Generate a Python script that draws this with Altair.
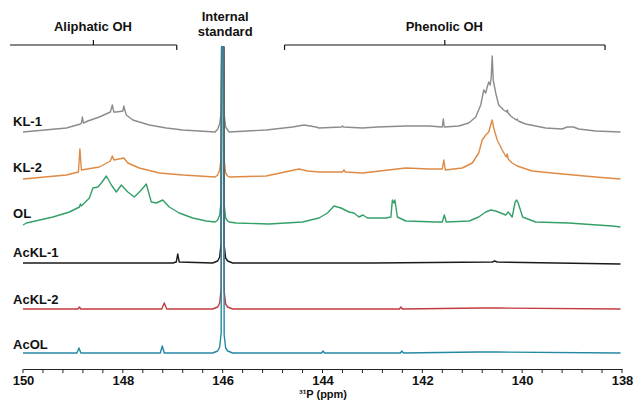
import altair as alt
import pandas as pd

# ---------------- data ----------------
SERIES = ["KL-1", "KL-2", "OL", "AcKL-1", "AcKL-2", "AcOL"]
COLORS = ["#8c8c8c", "#de8a45", "#34a068", "#1a1a1a", "#c23b3e", "#2488a3"]
OFFSETS = [237, 191, 145, 106, 60, 16]          # vertical stacking of the spectra
LABEL_RAISE = [10, 10, 10, 10, 9, 8]

# (ppm, intensity above own baseline)
KL1 = [(150.0, 0), (149.13, 4), (148.85, 8), (148.83, 9), (148.81, 15), (148.79, 9),
       (148.7, 11), (148.47, 15), (148.25, 20), (148.21, 27), (148.18, 20), (148.13, 20),
       (148.0, 21), (147.98, 26), (147.95, 20), (147.93, 17), (147.8, 12), (147.47, 7),
       (147.13, 4), (146.8, 2), (146.47, 1), (146.15, 0), (146.1, 3), (146.06, 8),
       (146.03, 20), (146.02, 85), (145.98, 85), (145.97, 18), (145.94, 5), (145.9, 2),
       (145.87, 0), (145.13, 2), (144.6, 5), (144.37, 7), (144.13, 5), (144.07, 4),
       (143.62, 5), (143.6, 6), (143.58, 5), (143.2, 4), (142.9, 5), (142.33, 6),
       (141.87, 6), (141.6, 5), (141.58, 13), (141.56, 5), (141.27, 6), (141.07, 9),
       (140.93, 15), (140.83, 27), (140.77, 42), (140.73, 39), (140.7, 45), (140.67, 50),
       (140.64, 47), (140.62, 55), (140.6, 76), (140.58, 52), (140.53, 39), (140.47, 27),
       (140.37, 22), (140.31, 20), (140.3, 22), (140.28, 19), (140.23, 16), (140.12, 12),
       (140.1, 13), (140.08, 11), (139.93, 8), (139.53, 4), (139.2, 3), (139.1, 5),
       (138.97, 5), (138.87, 3), (138.53, 1), (138.03, 0)]

KL2 = [(150.0, -1), (149.13, 3), (148.89, 6), (148.86, 29), (148.83, 8), (148.47, 11),
       (148.25, 17), (148.21, 22), (148.18, 18), (147.98, 20), (147.9, 15), (147.67, 10),
       (147.27, 5), (146.8, 3), (146.15, 1), (146.1, 3), (146.06, 8), (146.03, 20),
       (146.02, 131), (145.98, 131), (145.97, 18), (145.94, 5), (145.9, 2),
       (145.87, 1), (145.13, 2), (144.47, 9), (144.3, 7), (144.07, 6), (143.6, 6),
       (143.57, 8), (143.54, 6), (143.2, 5), (142.33, 10), (141.87, 9), (141.6, 9),
       (141.57, 18), (141.54, 8), (141.2, 10), (141.0, 15), (140.87, 25), (140.8, 38),
       (140.73, 43), (140.67, 46), (140.62, 55), (140.6, 58), (140.57, 50), (140.5, 38),
       (140.4, 28), (140.32, 21), (140.3, 24), (140.28, 19), (140.2, 15), (140.1, 12),
       (139.8, 7), (139.4, 5), (138.97, 3), (138.53, 1), (138.03, -1)]

OL = [(150.0, -1), (149.93, 1), (149.4, 7), (149.07, 12), (148.87, 17), (148.85, 20),
      (148.83, 18), (148.67, 26), (148.6, 36), (148.5, 37), (148.43, 41), (148.33, 48),
      (148.23, 39), (148.13, 32), (148.03, 39), (147.9, 32), (147.77, 27), (147.63, 34),
      (147.53, 40), (147.43, 22), (147.33, 21), (147.2, 24), (147.07, 17), (146.87, 11),
      (146.6, 6), (146.33, 3), (146.15, 2), (146.1, 4), (146.06, 9), (146.03, 22),
      (146.02, 177), (145.98, 177), (145.97, 20), (145.94, 6), (145.9, 3),
      (145.87, 2), (145.73, 1), (145.07, 0), (144.4, 2), (144.07, 6), (143.9, 11),
      (143.77, 18), (143.63, 16), (143.47, 12), (143.37, 11), (143.27, 7), (143.19, 9),
      (143.1, 6), (142.73, 6), (142.63, 7), (142.6, 24), (142.57, 21), (142.55, 24),
      (142.5, 7), (142.33, 3), (141.73, 2), (141.6, 2), (141.56, 9), (141.52, 2),
      (141.06, 3), (140.87, 7), (140.73, 12), (140.63, 14), (140.53, 13), (140.43, 11),
      (140.33, 9), (140.28, 12), (140.2, 7), (140.14, 22), (140.11, 24), (140.08, 21),
      (139.99, 7), (139.73, 2), (139.07, 1), (138.2, -2), (138.03, -3)]

ACKL1 = [(150.0, 0), (148.5, 0), (147.0, 0), (146.93, 1), (146.9, 9), (146.87, 1),
         (146.2, 0), (146.1, 2), (146.06, 6), (146.03, 20), (146.02, 216), (145.98, 216),
         (145.97, 18), (145.94, 5), (145.9, 2), (145.8, 0), (143.0, 0), (140.6, 1),
         (140.55, 2), (140.5, 1), (138.03, -1)]

ACKL2 = [(150.0, 0), (148.9, 0), (148.87, 2), (148.84, 0), (147.22, 0), (147.17, 6),
         (147.12, 0), (146.2, 0), (146.1, 2), (146.06, 6), (146.03, 20), (146.02, 262),
         (145.98, 262), (145.97, 18), (145.94, 5), (145.9, 2), (145.8, 0), (142.46, 0),
         (142.43, 2), (142.4, 0), (140.8, 1), (140.5, 1), (138.03, 0)]

ACOL = [(150.0, 0), (148.92, 0), (148.88, 5), (148.84, 0), (147.25, 0), (147.21, 7),
        (147.17, 0), (146.2, 0), (146.1, 2), (146.06, 6), (146.03, 20), (146.02, 306),
        (145.98, 306), (145.97, 18), (145.94, 5), (145.9, 2), (145.8, 0), (144.02, 0),
        (143.99, 2), (143.96, 0), (142.44, 0), (142.41, 2), (142.38, 0), (140.9, 1),
        (140.5, 1), (138.03, 0)]

SPECTRA = [KL1, KL2, OL, ACKL1, ACKL2, ACOL]

X_LABEL_TICKS = [150, 148, 146, 144, 142, 140, 138]
X_TICKS = [round(150 - 0.4 * i, 1) for i in range(31)]

ALIPHATIC_RANGE = (150.26, 146.92)
PHENOLIC_RANGE = (144.76, 138.34)
ANNOT_TEXT = ["Aliphatic OH", "Internal", "standard", "Phenolic OH"]
ANNOT_PPM = [148.6, 145.95, 145.95, 141.56]
ANNOT_Y = [342, 352, 337, 342]

# ---------------- layout constants ----------------
W, H = 599, 369
BR_Y, BR_DROP, BR_RISE = 324, 5, 5
TICK_LEN = 4
FONT = "Liberation Sans"

x_scale = alt.Scale(domain=[138, 150], reverse=True, nice=False, zero=False)
y_scale = alt.Scale(domain=[0, H], nice=False, zero=False)

x_axis = alt.Axis(values=X_LABEL_TICKS, title="³¹P (ppm)", format="d",
                  labelOverlap=False, labelFlush=False, grid=False,
                  ticks=False, domainColor="#222", domainWidth=1,
                  labelFont=FONT, labelFontSize=13, labelFontWeight="bold",
                  labelColor="#111", labelPadding=5,
                  titleFont=FONT, titleFontSize=11, titleFontWeight="bold",
                  titleColor="#111", titlePadding=1)


def xenc(field):
    return alt.X(field, type="quantitative", scale=x_scale, axis=x_axis, title="³¹P (ppm)")


layers = []
for name, color, off, spec in zip(SERIES, COLORS, OFFSETS, SPECTRA):
    df = pd.DataFrame(spec, columns=["ppm", "r"])
    df["y"] = df["r"] + off
    df["order"] = range(len(df))
    line = alt.Chart(df).mark_line(color=color, strokeWidth=1.4, strokeJoin="round").encode(
        x=xenc("ppm"),
        y=alt.Y("y:Q", scale=y_scale, axis=None),
        order="order:Q",
    )
    layers.append(line)

# axis tick marks (every 0.4 ppm) below the axis line
ticks = alt.Chart(pd.DataFrame({"ppm": X_TICKS})).mark_rule(color="#222", strokeWidth=1).encode(
    x=xenc("ppm"),
    y=alt.value(H), y2=alt.value(H + TICK_LEN))

lab_df = pd.DataFrame({
    "name": SERIES,
    "ppm": [150.2] * len(SERIES),
    "y": [o + r for o, r in zip(OFFSETS, LABEL_RAISE)],
})
labels = alt.Chart(lab_df).mark_text(align="left", baseline="middle", font=FONT,
                                     fontSize=13, fontWeight="bold", color="#111").encode(
    x=xenc("ppm"),
    y=alt.Y("y:Q", scale=y_scale, axis=None), text="name:N")

segs = []
for (a, b), ends in [(ALIPHATIC_RANGE, [ALIPHATIC_RANGE[1]]), (PHENOLIC_RANGE, list(PHENOLIC_RANGE))]:
    segs.append({"x": a, "x2": b, "y": BR_Y, "y2": BR_Y})
    for e in ends:
        segs.append({"x": e, "x2": e, "y": BR_Y, "y2": BR_Y - BR_DROP})
    c = (a + b) / 2
    segs.append({"x": c, "x2": c, "y": BR_Y, "y2": BR_Y + BR_RISE})
brackets = alt.Chart(pd.DataFrame(segs)).mark_rule(color="#111", strokeWidth=1.2).encode(
    x=xenc("x"), x2="x2:Q",
    y=alt.Y("y:Q", scale=y_scale, axis=None), y2="y2:Q")

annot = alt.Chart(pd.DataFrame({"t": ANNOT_TEXT, "ppm": ANNOT_PPM, "y": ANNOT_Y})).mark_text(
    align="center", baseline="middle", font=FONT, fontSize=13, fontWeight="bold", color="#111"
).encode(x=xenc("ppm"),
         y=alt.Y("y:Q", scale=y_scale, axis=None), text="t:N")

chart = alt.layer(*layers, ticks, labels, brackets, annot).properties(
    width=W, height=H,
    autosize=alt.AutoSizeParams(type="none"),
    padding={"left": 23, "top": 0, "right": 11, "bottom": 38},
    background="white",
).configure_view(stroke=None)

chart.save("out.html", embed_options={"renderer": "svg", "actions": False})
